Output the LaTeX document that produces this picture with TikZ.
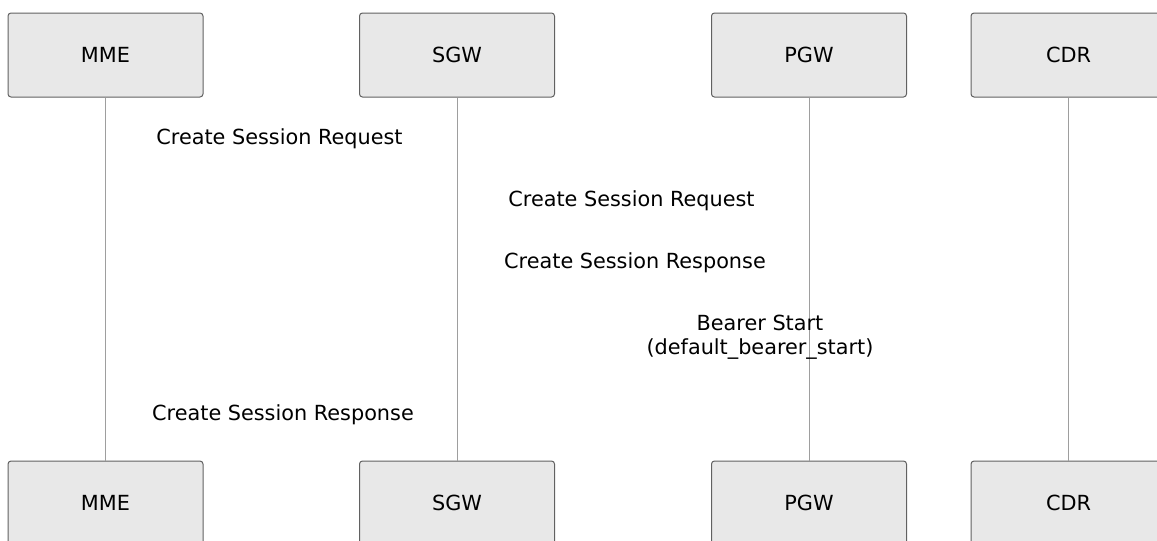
\documentclass[tikz,border=0pt]{standalone}
\usepackage{fontspec}
\setmainfont{DejaVu Sans}
\begin{document}
\begin{tikzpicture}[x=1pt,y=-1pt,
  actor/.style={draw=black!62, fill=black!9, line width=1pt, rounded corners=3pt,
    minimum width=195pt, minimum height=84pt, inner sep=0pt,
    font=\fontsize{20.8}{24}\selectfont},
  lifeline/.style={draw=black!38, line width=1pt},
  msg/.style={anchor=base, inner sep=0pt, font=\fontsize{20.8}{24}\selectfont, align=center}]
\useasboundingbox (0,0) rectangle (1157,541);
\clip (0,0) rectangle (1157,541);
% top actors
\node[actor] (mmeT) at (105.5,55) {MME};
\node[actor] (sgwT) at (457,55) {SGW};
\node[actor] (pgwT) at (809,55) {PGW};
\node[actor] (cdrT) at (1068.5,55) {CDR};
% bottom actors
\node[actor] (mmeB) at (105.5,503) {MME};
\node[actor] (sgwB) at (457,503) {SGW};
\node[actor] (pgwB) at (809,503) {PGW};
\node[actor] (cdrB) at (1068.5,503) {CDR};
% lifelines
\draw[lifeline] (mmeT.south) -- (mmeB.north);
\draw[lifeline] (sgwT.south) -- (sgwB.north);
\draw[lifeline] (pgwT.south) -- (pgwB.north);
\draw[lifeline] (cdrT.south) -- (cdrB.north);
% messages
\node[msg] (m1) at (279.5,144) {Create Session Request};
\node[msg] (m2) at (631.5,206) {Create Session Request};
\node[msg] (m3) at (635,268) {Create Session Response};
\node[msg] (m4a) at (760,330) {Bearer Start};
\node[msg] (m4b) at (760,354) {(default\_bearer\_start)};
\node[msg] (m5) at (283,420) {Create Session Response};
\end{tikzpicture}
\end{document}
